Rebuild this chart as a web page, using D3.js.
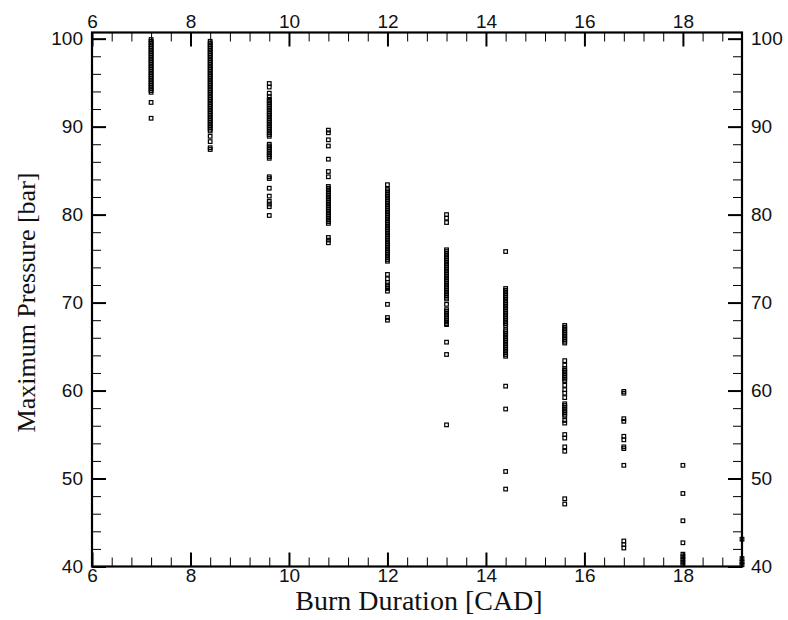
<!DOCTYPE html>
<html>
<head>
<meta charset="utf-8">
<script src="https://cdn.jsdelivr.net/npm/d3@7"></script>
<style>
  body { margin: 0; background: #fff; }
  .tick text { font-family: "Liberation Sans", Arial, sans-serif; font-size: 19px; fill: #111; }
  .title { font-family: "Liberation Serif", "Times New Roman", serif; fill: #111; }
</style>
</head>
<body>
<svg id="chart" width="788" height="620"></svg>
<script>
// burn duration columns (CAD) and the max pressure samples (bar)
const burnDurations = [7.2, 8.4, 9.6, 10.8, 12.0, 13.2, 14.4, 15.6, 16.8, 18.0, 19.2];

const p72 = [99.9, 99.7, 99.5, 99.3, 99.1, 98.9, 98.7, 98.5, 98.3, 98.1, 97.9, 97.7, 97.5, 97.3,
  97.1, 96.9, 96.7, 96.5, 96.3, 96.1, 95.9, 95.7, 95.5, 95.3, 95.1, 94.9, 94.7, 94.5, 94.3, 94.1,
  93.9, 92.75, 90.95];
const p84 = [99.7, 99.5, 99.3, 99.1, 98.9, 98.7, 98.5, 98.3, 98.1, 97.9, 97.7, 97.5, 97.3, 97.1,
  96.9, 96.7, 96.5, 96.3, 96.1, 95.9, 95.7, 95.5, 95.3, 95.1, 94.9, 94.7, 94.5, 94.3, 94.1, 93.9,
  93.7, 93.5, 93.3, 93.1, 92.9, 92.7, 92.5, 92.3, 92.1, 91.9, 91.7, 91.5, 91.3, 91.1, 90.9, 90.7,
  90.5, 90.3, 90.1, 89.9, 89.7, 89.5, 88.9, 88.3, 87.6, 87.4];
const p96 = [94.9, 94.5, 93.8, 93.4, 93.1, 92.9, 92.7, 92.5, 92.3, 92.1, 91.9, 91.7, 91.5, 91.3,
  91.1, 90.9, 90.7, 90.5, 90.3, 90.1, 89.9, 89.7, 89.5, 89.3, 89.1, 88.9, 88.0, 87.8, 87.6, 87.4,
  87.2, 87.0, 86.8, 86.6, 86.4, 84.3, 84.1, 83.0, 82.1, 81.5, 81.2, 80.9, 79.9];
const p108 = [89.6, 89.3, 88.5, 87.8, 86.3, 84.9, 84.3, 83.2, 83.0, 82.8, 82.6, 82.4, 82.2, 82.0,
  81.8, 81.6, 81.4, 81.2, 81.0, 80.8, 80.6, 80.4, 80.2, 80.0, 79.8, 79.6, 79.4, 79.2, 79.0, 77.4,
  77.1, 76.8];
const p120 = [83.4, 82.9, 82.7, 82.5, 82.3, 82.1, 81.9, 81.7, 81.5, 81.3, 81.1, 80.9, 80.7, 80.5,
  80.3, 80.1, 79.9, 79.7, 79.5, 79.3, 79.1, 78.9, 78.7, 78.5, 78.3, 78.1, 77.9, 77.7, 77.5, 77.3,
  77.1, 76.9, 76.7, 76.5, 76.3, 76.1, 75.9, 75.7, 75.5, 75.3, 75.1, 74.9, 74.7, 73.2, 72.7, 72.3,
  72.0, 71.8, 71.6, 71.3, 69.8, 68.3, 68.0];
const p132 = [80.0, 79.6, 79.1, 76.0, 75.8, 75.6, 75.4, 75.2, 75.0, 74.8, 74.6, 74.4, 74.2, 74.0,
  73.8, 73.6, 73.4, 73.2, 73.0, 72.8, 72.6, 72.4, 72.2, 72.0, 71.8, 71.6, 71.4, 71.2, 71.0, 70.8,
  70.6, 70.4, 69.8, 69.2, 69.0, 68.8, 68.6, 68.4, 68.2, 68.0, 67.8, 67.6, 67.5, 65.5, 64.1, 56.1];
const p144 = [75.8, 71.6, 71.4, 71.2, 71.0, 70.8, 70.6, 70.4, 70.2, 70.0, 69.8, 69.6, 69.4, 69.2,
  69.0, 68.8, 68.6, 68.4, 68.2, 68.0, 67.8, 67.6, 67.4, 66.9, 66.7, 66.5, 66.3, 66.1, 65.9, 65.7,
  65.5, 65.3, 65.1, 64.9, 64.7, 64.5, 64.3, 64.1, 63.9, 60.5, 57.9, 50.8, 48.8];
const p156 = [67.4, 67.2, 67.0, 66.8, 66.6, 66.4, 66.2, 66.0, 65.8, 65.6, 65.4, 63.4, 62.9, 62.5,
  62.3, 62.1, 61.9, 61.7, 61.5, 61.3, 61.1, 60.6, 60.1, 59.7, 59.2, 58.5, 58.3, 58.1, 57.9, 57.7,
  57.5, 57.3, 57.1, 56.6, 56.3, 55.0, 54.6, 53.6, 53.1, 47.7, 47.1];
const p168 = [59.9, 59.7, 56.8, 56.5, 54.8, 54.4, 53.6, 53.4, 51.5, 42.9, 42.5, 42.1];
const p180 = [51.5, 48.3, 45.2, 42.7, 41.4, 41.1, 40.8, 40.5, 40.2];
const p192 = [43.1, 40.9, 40.5, 40.2];

const pressureColumns = [p72, p84, p96, p108, p120, p132, p144, p156, p168, p180, p192];

const xMajorTicks = [6, 8, 10, 12, 14, 16, 18];
const yMajorTicks = [40, 50, 60, 70, 80, 90, 100];

const points = [];
burnDurations.forEach((bd, i) => {
  pressureColumns[i].forEach(p => points.push({ x: bd, y: p }));
});

const plotLeft = 92, plotRight = 742, plotTop = 32.5, plotBottom = 566.5;

const x = d3.scaleLinear().domain([6, 19.2]).range([plotLeft, plotRight]);
const y = d3.scaleLinear().domain([40, 100.7]).range([plotBottom, plotTop]);

const svg = d3.select("#chart");

const xMinor = d3.range(6, 19.21, 0.4).filter(v => Math.abs(v / 2 - Math.round(v / 2)) > 0.01);
const yMinor = d3.range(40, 100.1, 2).filter(v => v % 10 !== 0);

function drawAxis(axis, transform, strokeWidth) {
  const g = svg.append("g").attr("transform", transform).call(axis);
  g.select(".domain").remove();
  g.selectAll(".tick line").attr("stroke", "#000").attr("stroke-width", strokeWidth);
  return g;
}

// bottom + top x axes, ticks pointing inward
drawAxis(d3.axisBottom(x).tickValues(xMajorTicks).tickSize(-14).tickPadding(2).tickFormat(d3.format("d")),
  `translate(0,${plotBottom})`, 2);
drawAxis(d3.axisBottom(x).tickValues(xMinor).tickSize(-9).tickFormat(""),
  `translate(0,${plotBottom})`, 1);
drawAxis(d3.axisTop(x).tickValues(xMajorTicks).tickSize(-14).tickPadding(5).tickFormat(d3.format("d")),
  `translate(0,${plotTop})`, 2);
drawAxis(d3.axisTop(x).tickValues(xMinor).tickSize(-9).tickFormat(""),
  `translate(0,${plotTop})`, 1);

// left + right y axes
drawAxis(d3.axisLeft(y).tickValues(yMajorTicks).tickSize(-14).tickPadding(9).tickFormat(d3.format("d")),
  `translate(${plotLeft},0)`, 2);
drawAxis(d3.axisLeft(y).tickValues(yMinor).tickSize(-9).tickFormat(""),
  `translate(${plotLeft},0)`, 1);
drawAxis(d3.axisRight(y).tickValues(yMajorTicks).tickSize(-14).tickPadding(9).tickFormat(d3.format("d")),
  `translate(${plotRight},0)`, 2);
drawAxis(d3.axisRight(y).tickValues(yMinor).tickSize(-9).tickFormat(""),
  `translate(${plotRight},0)`, 1);

// frame
svg.append("rect")
  .attr("x", plotLeft).attr("y", plotTop)
  .attr("width", plotRight - plotLeft).attr("height", plotBottom - plotTop)
  .attr("fill", "none").attr("stroke", "#000").attr("stroke-width", 2.2);

// hollow square markers
svg.append("g").selectAll("rect")
  .data(points)
  .enter()
  .append("rect")
  .attr("x", d => x(d.x) - 1.8)
  .attr("y", d => y(d.y) - 1.8)
  .attr("width", 3.6)
  .attr("height", 3.6)
  .attr("fill", "none")
  .attr("stroke", "#000")
  .attr("stroke-width", 1.2);

svg.append("text")
  .attr("class", "title")
  .attr("x", (plotLeft + plotRight) / 2 + 2)
  .attr("y", 610)
  .attr("text-anchor", "middle")
  .style("font-size", "28px")
  .text("Burn Duration [CAD]");

svg.append("text")
  .attr("class", "title")
  .attr("transform", `translate(35,${(plotTop + plotBottom) / 2 + 3}) rotate(-90)`)
  .attr("text-anchor", "middle")
  .style("font-size", "26px")
  .text("Maximum Pressure [bar]");
</script>
</body>
</html>
